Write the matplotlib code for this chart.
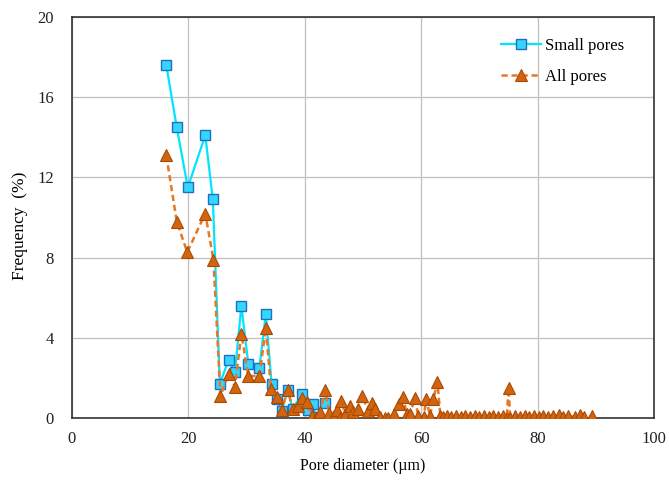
import matplotlib.pyplot as plt

# Small pores (squares, cyan)
small_d = [16.2, 18.0, 19.9, 22.9, 24.2, 25.4, 26.9, 28.0, 29.1, 30.3, 32.2, 33.3,
           34.3, 35.2, 36.0, 37.1, 37.9, 39.5, 40.5, 41.4, 41.9, 43.4]
small_f = [17.6, 14.5, 11.5, 14.1, 10.9, 1.7, 2.9, 2.3, 5.6, 2.7, 2.5, 5.2,
           1.7, 0.95, 0.37, 1.4, 0.45, 1.2, 0.4, 0.7, 0.05, 0.75]

# All pores (triangles, orange)
all_d = [16.2, 18.0, 19.8, 22.9, 24.3, 25.5, 26.9, 28.0, 29.1, 30.3, 32.2, 33.3,
         34.2, 35.2, 36.0, 37.1, 37.9, 38.8, 39.6, 40.3, 41.2, 41.9, 42.6, 43.5,
         44.2, 45.0, 45.6, 46.0, 46.3, 46.9, 47.8, 48.3, 49.2, 49.8, 50.9, 51.5,
         52.1, 52.9, 53.8, 54.3, 55.3, 56.1, 56.9, 57.5, 58.1, 58.9, 59.5, 60.4,
         60.9, 61.5, 62.1, 62.8, 63.3, 63.8, 64.4, 65.2, 66.0, 66.8, 67.6, 68.4,
         69.2, 70.0, 70.8, 71.6, 72.4, 73.2, 74.0, 74.7, 75.0, 75.3, 76.2, 77.0,
         77.8, 78.6, 79.4, 80.2, 81.0, 81.8, 82.7, 83.6, 84.4, 85.3, 86.4, 87.3,
         87.9, 89.3]
all_f = [13.1, 9.8, 8.27, 10.2, 7.9, 1.1, 2.2, 1.57, 4.2, 2.1, 2.1, 4.5,
         1.45, 1.04, 0.4, 1.4, 0.45, 0.6, 1.0, 0.8, 0.12, 0.0, 0.3, 1.4,
         0.25, 0.1, 0.4, 0.0, 0.87, 0.2, 0.6, 0.3, 0.45, 1.12, 0.37, 0.75,
         0.45, 0.05, 0.0, 0.0, 0.2, 0.7, 1.04, 0.2, 0.2, 1.0, 0.1, 0.04,
         0.95, 0.1, 0.95, 1.8, 0.1, 0.05, 0.1, 0.05, 0.12, 0.05, 0.1, 0.05,
         0.12, 0.05, 0.1, 0.05, 0.1, 0.05, 0.12, 0.0, 1.5, 0.0, 0.1, 0.05,
         0.12, 0.05, 0.1, 0.05, 0.12, 0.05, 0.1, 0.15, 0.05, 0.12, 0.05, 0.15,
         0.05, 0.1]

x_ticks = [0, 20, 40, 60, 80, 100]
y_ticks = [0, 4, 8, 12, 16, 20]

plt.rcParams['font.family'] = ['Liberation Serif', 'DejaVu Serif']

fig = plt.figure(figsize=(6.69, 4.8), dpi=100)
ax = fig.add_axes([0.1076, 0.129, 0.87, 0.8356])

ax.plot(small_d, small_f, '-s', color='#00E5FF', linewidth=1.6,
        markersize=7.5, markerfacecolor='#33D6FF', markeredgecolor='#1F6FC0',
        markeredgewidth=1.0, label='Small pores', zorder=3)
ax.plot(all_d, all_f, '--^', color='#E87722', linewidth=1.8, dashes=(2.5, 1.5),
        markersize=8, markerfacecolor='#D2640F', markeredgecolor='#A84A05',
        markeredgewidth=0.8, label='All pores', zorder=4)

ax.set_xlim(0, 100)
ax.set_ylim(0, 20)
ax.set_xticks(x_ticks)
ax.set_yticks(y_ticks)
ax.tick_params(length=0, labelsize=12, colors='#222222')
ax.tick_params(axis='x', pad=9)
ax.tick_params(axis='y', pad=13)
ax.grid(True, color='#BFBFBF', linewidth=0.9)
ax.set_axisbelow(True)
for s in ax.spines.values():
    s.set_color('#333333')
    s.set_linewidth(1.2)

ax.set_xlabel('Pore diameter (µm)', fontsize=11.5, labelpad=8)
ax.set_ylabel('Frequency  (%)', fontsize=12.5)
ax.yaxis.set_label_coords(-0.075, 0.48)

leg = ax.legend(loc='upper right', bbox_to_anchor=(0.974, 0.985), frameon=False,
                fontsize=12, handlelength=2.4, handletextpad=0.2, labelspacing=0.9)

fig.savefig('out.png', dpi=100)
